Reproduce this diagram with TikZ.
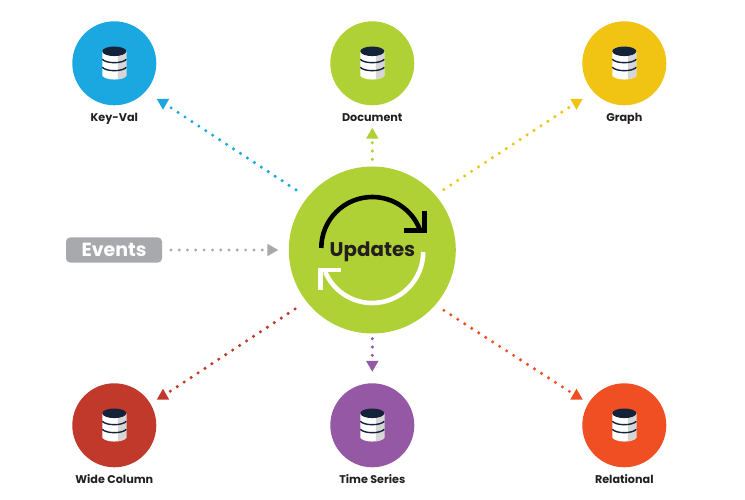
\documentclass[tikz,border=0pt]{standalone}
\usepackage{fontspec}
\setmainfont{Poppins}
\usetikzlibrary{shapes.geometric, positioning}
\definecolor{kvblue}{HTML}{1BA8E0}
\definecolor{docgreen}{HTML}{AFD136}
\definecolor{graphgold}{HTML}{F1C413}
\definecolor{widered}{HTML}{C0392B}
\definecolor{timepurple}{HTML}{9558A5}
\definecolor{relorange}{HTML}{F04E23}
\definecolor{eventgrey}{HTML}{A7A9AC}
\definecolor{inkdark}{HTML}{231F20}
\definecolor{dbnavy}{HTML}{14233A}
\tikzset{
  store/.style={circle, fill=#1, minimum size=84pt, inner sep=0},
  storename/.style={font=\fontsize{11.2}{11.2}\selectfont\bfseries, text=inkdark,
    inner sep=0, text height=8.5pt, text depth=0pt},
  dotted link/.style={draw=#1, line width=3.4pt, line cap=round,
    dash pattern=on 0pt off 8.3pt},
  tiphead/.style={regular polygon, regular polygon sides=3, fill=#1,
    minimum size=14.4pt, inner sep=0},
  turn/.style={line width=4.6pt},
  dbicon/.pic={
    \fill[white] (-12,-12) -- (-12,12.5) .. controls (-8,17.5) and (8,17.5) .. (12,12.5)
      -- (12,-12) -- cycle;
    \fill[black!16] (3.5,-12) -- (3.5,16) .. controls (7,15.5) and (10.5,14.5) .. (12,12.5)
      -- (12,-12) -- cycle;
    \draw[dbnavy, line width=1.4pt] (-12,-4) .. controls (-8,0.5) and (8,0.5) .. (12,-4);
    \draw[dbnavy, line width=1.4pt] (-12,4) .. controls (-8,8.5) and (8,8.5) .. (12,4);
    \fill[dbnavy] (0,-12) ellipse (12pt and 4.8pt);
  },
}
\begin{document}
\begin{tikzpicture}[x=1pt, y=-1pt]
  \useasboundingbox (0,0) rectangle (745,500);
  % stores
  \node[store=kvblue] (keyval) at (114.3,63.3) {};
  \node[store=docgreen] (doc) at (372.3,63.3) {};
  \node[store=graphgold] (graph) at (624.3,63.3) {};
  \node[store=widered] (wide) at (114.3,425.3) {};
  \node[store=timepurple] (time) at (372.3,425.3) {};
  \node[store=relorange] (rel) at (624.3,425.3) {};
  \pic at (keyval) {dbicon};
  \pic at (doc) {dbicon};
  \pic at (graph) {dbicon};
  \pic at (wide) {dbicon};
  \pic at (time) {dbicon};
  \pic at (rel) {dbicon};
  \node[storename, below=7.5pt of keyval] (keyvalname) {Key-Val};
  \node[storename, below=7.5pt of doc] (docname) {Document};
  \node[storename, below=7.5pt of graph] (graphname) {Graph};
  \node[storename, below=7.5pt of wide] (widename) {Wide Column};
  \node[storename, below=7.5pt of time] (timename) {Time Series};
  \node[storename, below=7.5pt of rel] (relname) {Relational};
  % centre
  \node[circle, fill=docgreen, minimum size=167pt, inner sep=0] (hub) at (372.3,250) {};
  \node[text=inkdark, font=\fontsize{19.8}{19.8}\selectfont\bfseries] (updates) at (372.5,251.5) {Updates};
  \draw[turn, black] (321.3,248) arc[start angle=180, end angle=22, radius=51pt];
  \draw[turn, black] (424.6,211) -- (424.6,230.5) -- (404,230.5);
  \draw[turn, white] (423.2,252) arc[start angle=0, end angle=-157, radius=51pt];
  \draw[turn, white] (320.6,289.5) -- (320.6,270) -- (341,270);
  % events
  \node[fill=eventgrey, rounded corners=4pt, minimum width=96pt, minimum height=25pt, inner sep=0,
    text=white, font=\fontsize{19}{19}\selectfont\bfseries] (events) at (114,250) {Events};
  % heads
  \node[tiphead=kvblue, shape border rotate=180] (keyvalhead) at (163,102.5) {};
  \node[tiphead=docgreen] (dochead) at (372.3,135) {};
  \node[tiphead=graphgold, shape border rotate=180] (graphhead) at (576.5,102.5) {};
  \node[tiphead=widered] (widehead) at (163,396) {};
  \node[tiphead=timepurple, shape border rotate=180] (timehead) at (372.3,364.5) {};
  \node[tiphead=relorange] (relhead) at (576.5,396) {};
  \node[tiphead=eventgrey, shape border rotate=-90] (eventshead) at (271,250) {};
  % links
  \draw[dotted link=kvblue, shorten <=13.5pt] (hub.141) -- (keyvalhead);
  \draw[dotted link=docgreen, shorten <=7pt] (hub.90) -- (dochead);
  \draw[dotted link=graphgold, shorten <=10pt] (hub.41) -- (graphhead);
  \draw[dotted link=widered, shorten <=13.5pt] (hub.218.5) -- (widehead);
  \draw[dotted link=timepurple, shorten <=5pt] (hub.270) -- (timehead);
  \draw[dotted link=relorange, shorten <=10pt] (hub.-41) -- (relhead);
  \draw[dotted link=eventgrey, line width=3.2pt, shorten <=8.7pt] (events) -- (eventshead);
\end{tikzpicture}
\end{document}
